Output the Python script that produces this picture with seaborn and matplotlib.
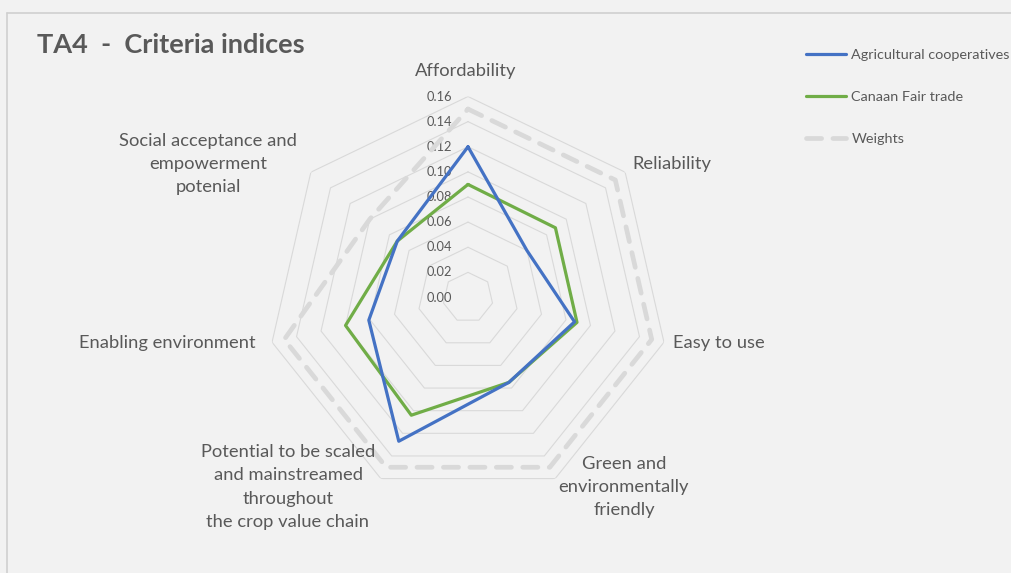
import numpy as np
import pandas as pd
import matplotlib
matplotlib.use("Agg")
import matplotlib.pyplot as plt
from matplotlib.lines import Line2D
import seaborn as sns

# ---- data -------------------------------------------------------------
criteria = [
    "Affordability",
    "Reliability",
    "Easy to use",
    "Green and\nenvironmentally\nfriendly",
    "Potential to be scaled\nand mainstreamed\nthroughout\nthe crop value chain",
    "Enabling environment",
    "Social acceptance and\nempowerment\npotenial",
]
agri_coop = [0.120, 0.060, 0.087, 0.075, 0.127, 0.081, 0.072]
canaan = [0.090, 0.089, 0.089, 0.075, 0.104, 0.100, 0.072]
weights = [0.150, 0.150, 0.150, 0.150, 0.150, 0.150, 0.100]
series_names = ["Agricultural cooperatives", "Canaan Fair trade", "Weights"]
ring_ticks = [0.00, 0.02, 0.04, 0.06, 0.08, 0.10, 0.12, 0.14, 0.16]

# ---- styling ----------------------------------------------------------
sns.set_theme(style="white")
plt.rcParams["font.family"] = ["Lato", "DejaVu Sans"]
BG = "#f2f2f2"
TXT = "#595959"
GRID = "#d9d9d9"
BLUE = "#4472c4"
GREEN = "#70ad47"
WEIGHT = "#d9d9d9"

W, H = 1012, 573
fig = plt.figure(figsize=(W / 100, H / 100), dpi=100, facecolor=BG)

# polar axes centred on the chart, radius 0.16 -> ~201 px
cx, cy, R = 468, 297.5, 201
ax = fig.add_axes([(cx - R) / W, (H - cy - R) / H, 2 * R / W, 2 * R / H],
                  projection="polar")
ax.set_facecolor("none")
ax.set_theta_offset(np.pi / 2)
ax.set_theta_direction(-1)
ax.set_ylim(0, 0.16)
ax.grid(False)
ax.set_xticks([])
ax.set_yticks([])
ax.spines["polar"].set_visible(False)

n = len(criteria)
theta = np.linspace(0, 2 * np.pi, n, endpoint=False)
theta_closed = np.append(theta, 2 * np.pi)

# heptagonal grid rings
for v in ring_ticks[1:]:
    ax.plot(theta_closed, [v] * (n + 1), color=GRID, lw=0.8, zorder=1)

# radial tick labels along the vertical axis
for v in ring_ticks:
    ax.annotate(f"{v:.2f}", xy=(0, v), xytext=(-11.5, 0),
                textcoords="offset points", ha="right", va="center",
                fontsize=9.3, color=TXT, zorder=2)


def closed_frame(values, name):
    vals = list(values) + [values[0]]
    return pd.DataFrame({"theta": theta_closed, "r": vals, "series": name})


sns.lineplot(data=closed_frame(weights, series_names[2]), x="theta", y="r",
             ax=ax, sort=False, estimator=None, color=WEIGHT, lw=3.4,
             linestyle=(0, (3.2, 2.4)), dash_capstyle="round",
             label=series_names[2], zorder=3)
sns.lineplot(data=closed_frame(canaan, series_names[1]), x="theta", y="r",
             ax=ax, sort=False, estimator=None, color=GREEN, lw=2.3,
             label=series_names[1], zorder=4)
sns.lineplot(data=closed_frame(agri_coop, series_names[0]), x="theta", y="r",
             ax=ax, sort=False, estimator=None, color=BLUE, lw=2.3,
             label=series_names[0], zorder=5)
ax.set_xlabel("")
ax.set_ylabel("")
if ax.get_legend() is not None:
    ax.get_legend().remove()


def ftext(x, y, s, **kw):
    fig.text(x / W, 1 - y / H, s, color=TXT, **kw)


# category labels around the chart
lab_kw = dict(fontsize=13.2, linespacing=1.56)
ftext(466, 71, criteria[0], ha="center", va="center", **lab_kw)
ftext(632, 164, criteria[1], ha="left", va="center", **lab_kw)
ftext(673, 343, criteria[2], ha="left", va="center", **lab_kw)
ftext(624, 487, criteria[3], ha="center", va="center", multialignment="center", **lab_kw)
ftext(288, 487, criteria[4], ha="center", va="center", multialignment="center", **lab_kw)
ftext(256, 343, criteria[5], ha="right", va="center", **lab_kw)
ftext(208, 164, criteria[6], ha="center", va="center", multialignment="center", **lab_kw)

# title
ftext(37, 45, "TA4  -  Criteria indices", ha="left", va="center",
      fontsize=19.5, fontweight="bold")

# legend in the upper right
handles, labels = ax.get_legend_handles_labels()
order = [labels.index(s) for s in series_names]
leg = fig.legend([handles[i] for i in order], [labels[i] for i in order],
                 loc="upper left", bbox_to_anchor=(806 / W, 1 - 49 / H),
                 frameon=False, fontsize=10.4, handlelength=2.78,
                 handletextpad=0.36, labelspacing=2.05, borderaxespad=0,
                 borderpad=0)
for t in leg.get_texts():
    t.set_color(TXT)

# chart border (top and left edges)
fig.add_artist(Line2D([7 / W, 7 / W], [0, 1 - 13 / H], transform=fig.transFigure,
                      color="#d0d0d0", lw=1.2))
fig.add_artist(Line2D([7 / W, 1], [1 - 13 / H, 1 - 13 / H], transform=fig.transFigure,
                      color="#d0d0d0", lw=1.2))

fig.savefig("out.png", dpi=100, facecolor=BG)
